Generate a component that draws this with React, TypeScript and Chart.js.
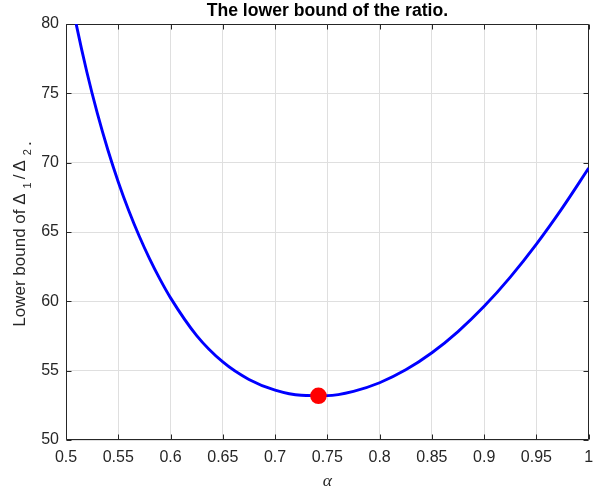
import React, { useEffect, useRef } from 'react';
import { Chart, registerables } from 'chart.js';

Chart.register(...registerables);

// alpha values (x) and lower bound of the ratio (y)
const alphaValues = [0.50, 0.51, 0.52, 0.53, 0.54, 0.55, 0.56, 0.57, 0.58, 0.59, 0.60, 0.625, 0.65, 0.675, 0.70, 0.725, 0.75, 0.775, 0.80, 0.825, 0.85, 0.875, 0.90, 0.925, 0.95, 0.975, 1.00];
const boundValues = [83.76, 79.90, 76.52, 73.55, 70.93, 68.61, 66.55, 64.71, 63.06, 61.58, 60.25, 57.53, 55.63, 54.37, 53.60, 53.23, 53.20, 53.51, 54.13, 55.06, 56.29, 57.82, 59.64, 61.75, 64.13, 66.76, 69.61];

// minimum marker
const minAlpha = [0.7415];
const minBound = [53.19];

// axes
const xTickValues = [0.5, 0.55, 0.6, 0.65, 0.7, 0.75, 0.8, 0.85, 0.9, 0.95, 1];
const yTickValues = [50, 55, 60, 65, 70, 75, 80];

const titleText = 'The lower bound of the ratio.';
const xLabelText = '\u03B1';

const SANS = '"Liberation Sans", Arial, Helvetica, sans-serif';
const AXIS_COLOR = '#262626';

const framePlugin = {
  id: 'matlabFrame',
  beforeDatasetsDraw(chart: any) {
    const { ctx, chartArea } = chart;
    const { left, right, top, bottom } = chartArea;
    const xs = chart.scales.x;
    const ys = chart.scales.y;
    ctx.save();
    ctx.strokeStyle = AXIS_COLOR;
    ctx.lineWidth = 1;
    const L = Math.round(left) + 0.5;
    const R = Math.round(right) - 0.5;
    const T = Math.round(top) + 0.5;
    const B = Math.round(bottom) - 0.5;
    ctx.beginPath();
    ctx.rect(L, T, R - L, B - T);
    ctx.stroke();
    const tl = 5;
    ctx.beginPath();
    xTickValues.forEach((v) => {
      const px = Math.round(xs.getPixelForValue(v)) + 0.5;
      ctx.moveTo(px, B);
      ctx.lineTo(px, B - tl);
      ctx.moveTo(px, T);
      ctx.lineTo(px, T + tl);
    });
    yTickValues.forEach((v) => {
      const py = Math.round(ys.getPixelForValue(v)) + 0.5;
      ctx.moveTo(L, py);
      ctx.lineTo(L + tl, py);
      ctx.moveTo(R, py);
      ctx.lineTo(R - tl, py);
    });
    ctx.stroke();
    ctx.restore();
  },
  afterDraw(chart: any) {
    const { ctx, chartArea } = chart;
    const cx = (chartArea.left + chartArea.right) / 2;
    ctx.save();
    // title
    ctx.fillStyle = '#000000';
    ctx.font = `bold 17.6px ${SANS}`;
    ctx.textAlign = 'center';
    ctx.textBaseline = 'alphabetic';
    ctx.fillText(titleText, cx, 15.5);
    // x label
    ctx.fillStyle = AXIS_COLOR;
    ctx.font = 'italic 17.6px "Liberation Serif", "Times New Roman", serif';
    ctx.fillText(xLabelText, cx, 486);
    // y label with subscripts
    const mainFont = `17px ${SANS}`;
    const subFont = `11px ${SANS}`;
    const parts = [
      { t: 'Lower bound of ', sub: false, extra: 0 },
      { t: '\u0394', sub: false, extra: 5 },
      { t: '1', sub: true, extra: 3 },
      { t: '/', sub: false, extra: 3 },
      { t: '\u0394', sub: false, extra: 5 },
      { t: '2', sub: true, extra: 3 },
      { t: '.', sub: false, extra: 0, low: true },
    ];
    const widths = parts.map((p) => {
      ctx.font = p.sub ? subFont : mainFont;
      return ctx.measureText(p.t).width + p.extra;
    });
    const total = widths.reduce((a, b) => a + b, 0);
    const cy = (chartArea.top + chartArea.bottom) / 2 + 2;
    ctx.translate(24.5, cy);
    ctx.rotate(-Math.PI / 2);
    ctx.textAlign = 'left';
    let tx = -total / 2;
    parts.forEach((p: any, i) => {
      ctx.font = p.sub ? subFont : mainFont;
      const dy = p.sub || p.low ? 6.5 : 0;
      ctx.fillText(p.t, tx, dy);
      tx += widths[i];
    });
    ctx.restore();
  },
};

export default function App() {
  const canvasRef = useRef<HTMLCanvasElement | null>(null);

  useEffect(() => {
    const canvas = canvasRef.current;
    if (!canvas) return;
    const chart = new Chart(canvas, {
      type: 'line',
      data: {
        datasets: [
          {
            data: minAlpha.map((x, i) => ({ x, y: minBound[i] })),
            showLine: false,
            pointRadius: 8.3,
            pointBackgroundColor: '#ff0000',
            pointBorderColor: '#ff0000',
            pointBorderWidth: 0,
            clip: false,
            order: 0,
          } as any,
          {
            data: alphaValues.map((x, i) => ({ x, y: boundValues[i] })),
            borderColor: '#0000ff',
            borderWidth: 2.9,
            pointRadius: 0,
            cubicInterpolationMode: 'monotone',
            fill: false,
            clip: 0,
            order: 1,
          } as any,
        ],
      },
      options: {
        responsive: false,
        animation: false,
        events: [],
        layout: { padding: { top: 24, right: 3, left: 0, bottom: 0 } },
        plugins: {
          legend: { display: false },
          title: { display: false },
          tooltip: { enabled: false },
        },
        scales: {
          x: {
            type: 'linear',
            min: 0.5,
            max: 1,
            afterBuildTicks: (s: any) => {
              s.ticks = xTickValues.map((v) => ({ value: v }));
            },
            ticks: {
              autoSkip: false,
              maxRotation: 0,
              padding: 8,
              color: AXIS_COLOR,
              font: { family: SANS, size: 16 },
              callback: (v: any) => String(Number(Number(v).toFixed(2))),
            },
            grid: { color: '#dfdfdf', drawTicks: false, lineWidth: 1 },
            border: { display: false },
            afterFit: (s: any) => {
              s.height = 53;
              s.paddingLeft = 0;
              s.paddingRight = 0;
            },
          },
          y: {
            type: 'linear',
            min: 50,
            max: 80,
            afterBuildTicks: (s: any) => {
              s.ticks = yTickValues.map((v) => ({ value: v }));
            },
            ticks: {
              autoSkip: false,
              padding: 7,
              color: AXIS_COLOR,
              font: { family: SANS, size: 16 },
              callback: (v: any) => String(v),
            },
            grid: { color: '#dfdfdf', drawTicks: false, lineWidth: 1 },
            border: { display: false },
            afterFit: (s: any) => {
              s.width = 66;
              s.paddingTop = 0;
              s.paddingBottom = 0;
            },
          },
        },
      } as any,
      plugins: [framePlugin],
    });
    return () => chart.destroy();
  }, []);

  return (
    <div style={{ position: 'fixed', left: 0, top: 0, width: 597, height: 493, background: '#ffffff' }}>
      <canvas ref={canvasRef} width={597} height={493} style={{ width: 597, height: 493, display: 'block' }} />
    </div>
  );
}
